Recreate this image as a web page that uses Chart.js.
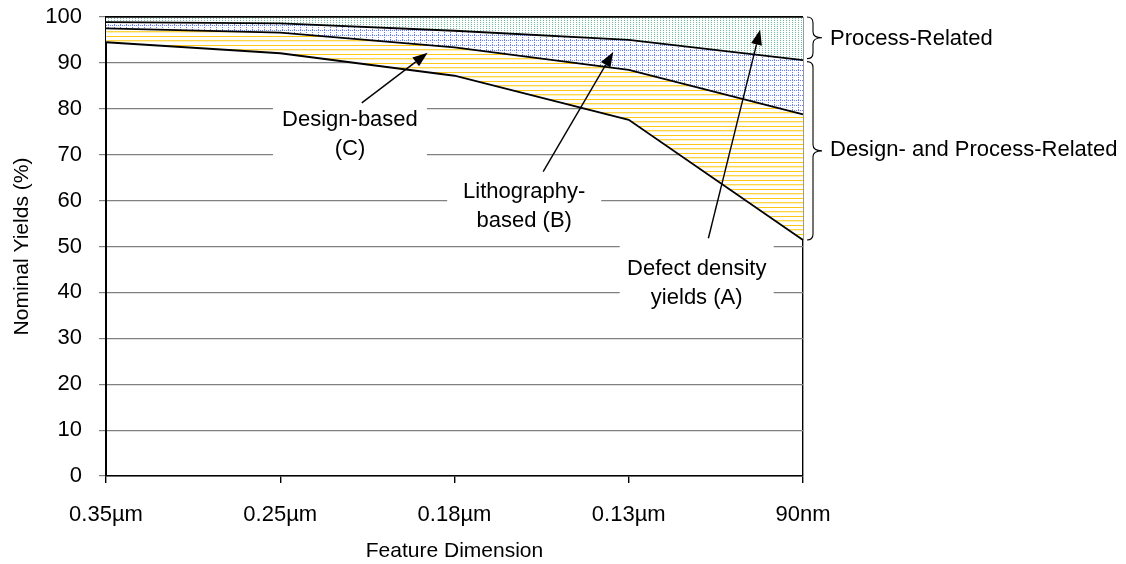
<!DOCTYPE html>
<html>
<head>
<meta charset="utf-8">
<script src="https://cdn.jsdelivr.net/npm/chart.js@4"></script>
<style>
  body { margin: 0; background: #fff; }
  #wrap { width: 1126px; height: 564px; }
</style>
</head>
<body>
<div id="wrap"><canvas id="yields" width="1126" height="564"></canvas></div>
<script>
// data
var sizes = ['0.35\u00b5m', '0.25\u00b5m', '0.18\u00b5m', '0.13\u00b5m', '90nm'];
var defectYield = [94.5, 92.1, 87.2, 77.6, 51.4];   // (A)
var lithoYield  = [97.5, 96.6, 93.4, 88.5, 78.8];   // (B)
var designYield = [98.9, 98.6, 97.0, 95.0, 90.6];   // (C)
var fullYield   = [100, 100, 100, 100, 100];
var yTicks = [0, 10, 20, 30, 40, 50, 60, 70, 80, 90, 100];

var FONT = "Arial, 'Liberation Sans', Helvetica, sans-serif";

// call-outs: text centre in (category index, value), arrow from/to in same units
var notes = [
  { lines: ['Design-based', '(C)'],       at: [1.40, 74.5], from: [1.468, 81.3], to: [1.846, 92.2] },
  { lines: ['Lithography-', 'based (B)'], at: [2.40, 58.7], from: [2.509, 66.3], to: [2.911, 92.4] },
  { lines: ['Defect density', 'yields (A)'], at: [3.39, 42.0], from: [3.457, 51.8], to: [3.754, 97.2] }
];

function tile(w, h, draw) {
    var c = document.createElement('canvas');
    c.width = w; c.height = h;
    var g = c.getContext('2d');
    g.fillStyle = '#fff';
    g.fillRect(0, 0, w, h);
    draw(g);
    return document.getElementById('yields').getContext('2d').createPattern(c, 'repeat');
}

var yellowStripes = tile(1, 9, function(g) {
    g.fillStyle = '#ffc814'; g.fillRect(0, 0, 1, 1);
    g.fillStyle = '#ffd545'; g.fillRect(0, 4, 1, 1);
    g.fillStyle = '#fff0b8'; g.fillRect(0, 5, 1, 1);
});
var blueGrid = tile(6, 5, function(g) {
    g.fillStyle = '#6482ff';
    for (var i = 0; i < 5; i += 2) g.fillRect(0, i, 1, 1);
    for (var j = 2; j < 6; j += 2) g.fillRect(j, 0, 1, 1);
});
var greenDots = tile(3, 4, function(g) {
    g.fillStyle = '#6cc29c';
    g.fillRect(0, 0, 1, 1); g.fillRect(0, 2, 1, 1);
});

function arrow(ctx, x0, y0, x1, y1) {
    var a = Math.atan2(y1 - y0, x1 - x0), len = 15, hw = 5.5;
    var bx = x1 - Math.cos(a) * len, by = y1 - Math.sin(a) * len;
    ctx.beginPath();
    ctx.moveTo(x0, y0); ctx.lineTo(bx, by);
    ctx.stroke();
    ctx.beginPath();
    ctx.moveTo(x1, y1);
    ctx.lineTo(bx + Math.sin(a) * hw, by - Math.cos(a) * hw);
    ctx.lineTo(bx - Math.sin(a) * hw, by + Math.cos(a) * hw);
    ctx.closePath();
    ctx.fill();
}

function brace(ctx, x, y0, y1) {
    var xm = x + 6, xt = x + 15, ym = (y0 + y1) / 2, r = 6;
    ctx.beginPath();
    ctx.moveTo(x, y0);
    ctx.quadraticCurveTo(xm, y0, xm, y0 + r);
    ctx.lineTo(xm, ym - r);
    ctx.quadraticCurveTo(xm, ym, xt, ym);
    ctx.quadraticCurveTo(xm, ym, xm, ym + r);
    ctx.lineTo(xm, y1 - r);
    ctx.quadraticCurveTo(xm, y1, x, y1);
    ctx.stroke();
    return xt;
}

var callouts = {
    id: 'callouts',
    afterDraw: function(chart) {
        var ctx = chart.ctx, xs = chart.scales.x, ys = chart.scales.y;
        ctx.save();
        ctx.font = '22px ' + FONT;
        ctx.textAlign = 'center';
        ctx.textBaseline = 'middle';
        ctx.strokeStyle = '#000';
        ctx.fillStyle = '#000';
        ctx.lineWidth = 1.4;
        notes.forEach(function(n) {
            var cx = xs.getPixelForValue(n.at[0]), cy = ys.getPixelForValue(n.at[1]);
            ctx.fillStyle = '#fff';
            ctx.fillRect(cx - 77, cy - 38, 154, 76);
            ctx.fillStyle = '#000';
            ctx.fillText(n.lines[0], cx, cy - 14.5);
            ctx.fillText(n.lines[1], cx, cy + 14.5);
            arrow(ctx, xs.getPixelForValue(n.from[0]), ys.getPixelForValue(n.from[1]),
                       xs.getPixelForValue(n.to[0]), ys.getPixelForValue(n.to[1]));
        });

        // braces on the right
        var last = sizes.length - 1, bx = chart.chartArea.right + 4;
        ctx.textAlign = 'left';
        ctx.lineWidth = 1.1;
        var yTop = ys.getPixelForValue(fullYield[last]);
        var yMid = ys.getPixelForValue(designYield[last]);
        var yLow = ys.getPixelForValue(defectYield[last]);
        var tx = brace(ctx, bx, yTop, yMid - 1.5);
        ctx.fillText('Process-Related', tx + 8, (yTop + yMid) / 2);
        tx = brace(ctx, bx, yMid + 1.5, yLow);
        ctx.fillText('Design- and Process-Related', tx + 8, (yMid + yLow) / 2);
        ctx.restore();
    }
};

var ctx = document.getElementById('yields').getContext('2d');
window.yieldsChart = new Chart(ctx, {
    type: 'line',
    data: {
        labels: sizes,
        datasets: [
            { data: defectYield, borderColor: '#000', borderWidth: 1.8, fill: false },
            { data: lithoYield,  borderColor: '#000', borderWidth: 1.8, fill: '-1', backgroundColor: yellowStripes },
            { data: designYield, borderColor: '#000', borderWidth: 1.8, fill: '-1', backgroundColor: blueGrid },
            { data: fullYield,   borderColor: '#000', borderWidth: 1.6, fill: '-1', backgroundColor: greenDots }
        ]
    },
    options: {
        responsive: false,
        animation: false,
        events: [],
        elements: { point: { radius: 0 }, line: { tension: 0 } },
        layout: { padding: { top: 17, right: 323, bottom: 0, left: 0 } },
        plugins: { legend: { display: false }, title: { display: false }, tooltip: { enabled: false } },
        scales: {
            x: {
                z: 1,
                offset: false,
                afterFit: function(s) { s.height = 88; s.paddingLeft = 0; s.paddingRight = 0; },
                grid: {
                    color: function(c) { return c.index === sizes.length - 1 ? '#000' : 'rgba(0,0,0,0)'; },
                    tickColor: '#000',
                    tickLength: 7,
                    lineWidth: 1.4
                },
                border: { color: '#000', width: 1.6 },
                ticks: { color: '#000', font: { size: 22, family: FONT }, padding: 19, maxRotation: 0, autoSkip: false },
                title: { display: true, text: 'Feature Dimension', color: '#000',
                         font: { size: 21, family: FONT }, padding: { top: 0, bottom: 0 } }
            },
            y: {
                min: 0, max: 100,
                afterFit: function(s) { s.width = 106; s.paddingTop = 0; s.paddingBottom = 0; },
                afterBuildTicks: function(s) { s.ticks = yTicks.map(function(v) { return { value: v }; }); },
                grid: {
                    color: function(c) { return c.tick && c.tick.value === 100 ? '#000' : '#808080'; },
                    tickColor: '#808080',
                    tickLength: 7,
                    lineWidth: 1.2
                },
                border: { color: '#000', width: 2 },
                ticks: { color: '#000', font: { size: 22, family: FONT }, padding: 17 },
                title: { display: true, text: 'Nominal Yields (%)', color: '#000',
                         font: { size: 21, family: FONT }, padding: { top: 10, bottom: 0 } }
            }
        }
    },
    plugins: [callouts]
});
</script>
</body>
</html>
